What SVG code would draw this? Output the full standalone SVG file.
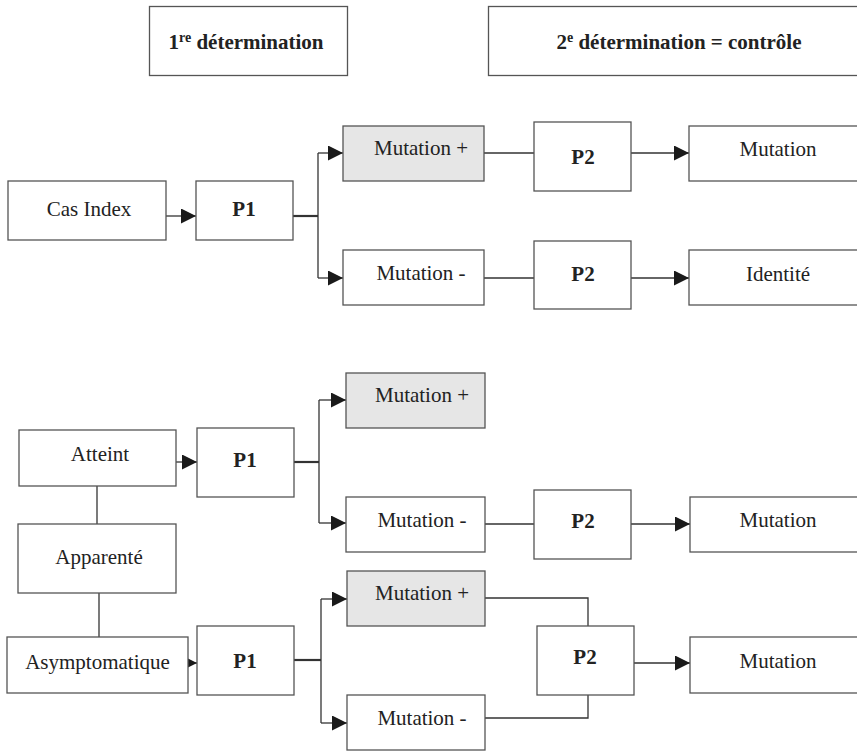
<svg xmlns="http://www.w3.org/2000/svg" width="857" height="752" viewBox="0 0 857 752">
<style>
  .box{fill:#ffffff;stroke:#555555;stroke-width:1.3}
  .gray{fill:#e6e6e6;stroke:#555555;stroke-width:1.3}
  .t{font-family:"Liberation Serif","DejaVu Serif",serif;font-size:21px;fill:#222222;text-anchor:middle}
  .b{font-weight:bold}
  .c{fill:none;stroke:#333333;stroke-width:1.3}
  .thick{stroke-width:2.2}
</style>
<defs>
  <marker id="arr" markerWidth="15" markerHeight="15" refX="15" refY="7.5" orient="auto" markerUnits="userSpaceOnUse">
    <path d="M0,0 L15,7.5 L0,15 z" fill="#1a1a1a"/>
  </marker>
</defs>
<rect width="857" height="752" fill="#ffffff"/>

<g id="connectors">
  <path class="c" d="M166,216 H196" marker-end="url(#arr)"/>
  <path class="c thick" d="M293,216 H318"/>
  <path class="c" d="M318,153 V278"/>
  <path class="c" d="M318,153 H343" marker-end="url(#arr)"/>
  <path class="c" d="M318,278 H343" marker-end="url(#arr)"/>
  <path class="c" d="M484,153 H534"/>
  <path class="c" d="M631,153 H689" marker-end="url(#arr)"/>
  <path class="c" d="M484,278 H534"/>
  <path class="c" d="M631,278 H689" marker-end="url(#arr)"/>

  <path class="c" d="M176,462 H197" marker-end="url(#arr)"/>
  <path class="c thick" d="M294,462 H319"/>
  <path class="c" d="M319,400 V523"/>
  <path class="c" d="M319,400 H346" marker-end="url(#arr)"/>
  <path class="c" d="M319,523 H346" marker-end="url(#arr)"/>
  <path class="c" d="M485,524 H534"/>
  <path class="c" d="M631,524 H690" marker-end="url(#arr)"/>
  <path class="c" d="M97,486 V524"/>
  <path class="c" d="M99,593 V637"/>

  <path class="c" d="M175,663 H197" marker-end="url(#arr)"/>
  <path class="c thick" d="M294,660 H321"/>
  <path class="c" d="M321,599 V723"/>
  <path class="c" d="M321,599 H347" marker-end="url(#arr)"/>
  <path class="c" d="M321,723 H347" marker-end="url(#arr)"/>
  <path class="c" d="M485,598 H588 V626"/>
  <path class="c" d="M485,718 H588 V695"/>
  <path class="c" d="M634,663 H690" marker-end="url(#arr)"/>
</g>

<g id="header1">
  <rect class="box" x="149.5" y="6.5" width="198" height="69"/>
  <text class="t b" x="246" y="49">1<tspan font-size="14" dy="-7">re</tspan><tspan dy="7"> détermination</tspan></text>
</g>
<g id="header2">
  <rect class="box" x="488.5" y="6.5" width="390" height="69"/>
  <text class="t b" x="679" y="49">2<tspan font-size="14" dy="-7">e</tspan><tspan dy="7"> détermination = contrôle</tspan></text>
</g>

<g id="cas-index">
  <rect class="box" x="8" y="181" width="158" height="59"/>
  <text class="t" x="89" y="216">Cas Index</text>
</g>
<g id="p1-a">
  <rect class="box" x="196" y="181" width="97" height="59"/>
  <text class="t b" x="244" y="216">P1</text>
</g>
<g id="mutplus-a">
  <rect class="gray" x="343" y="126" width="141" height="55"/>
  <text class="t" x="421" y="155">Mutation +</text>
</g>
<g id="mutminus-a">
  <rect class="box" x="343" y="250" width="141" height="55"/>
  <text class="t" x="421" y="280">Mutation -</text>
</g>
<g id="p2-a">
  <rect class="box" x="534" y="122" width="97" height="69"/>
  <text class="t b" x="583" y="164">P2</text>
</g>
<g id="p2-b">
  <rect class="box" x="534" y="241" width="97" height="68"/>
  <text class="t b" x="583" y="281">P2</text>
</g>
<g id="mutation-a">
  <rect class="box" x="689" y="126" width="190" height="55"/>
  <text class="t" x="778" y="156">Mutation</text>
</g>
<g id="identite">
  <rect class="box" x="689" y="250" width="190" height="55"/>
  <text class="t" x="778" y="281">Identité</text>
</g>

<g id="atteint">
  <rect class="box" x="19" y="430" width="157" height="56"/>
  <text class="t" x="100" y="461">Atteint</text>
</g>
<g id="p1-b">
  <rect class="box" x="197" y="428" width="97" height="69"/>
  <text class="t b" x="245" y="467">P1</text>
</g>
<g id="mutplus-b">
  <rect class="gray" x="346" y="373" width="139" height="55"/>
  <text class="t" x="422" y="402">Mutation +</text>
</g>
<g id="mutminus-b">
  <rect class="box" x="346" y="497" width="139" height="55"/>
  <text class="t" x="422" y="527">Mutation -</text>
</g>
<g id="p2-c">
  <rect class="box" x="534" y="490" width="97" height="69"/>
  <text class="t b" x="583" y="528">P2</text>
</g>
<g id="mutation-b">
  <rect class="box" x="690" y="497" width="190" height="55"/>
  <text class="t" x="778" y="527">Mutation</text>
</g>
<g id="apparente">
  <rect class="box" x="18" y="524" width="158" height="69"/>
  <text class="t" x="99" y="564">Apparenté</text>
</g>
<g id="asymptomatique">
  <rect class="box" x="7" y="637" width="181" height="56"/>
  <text class="t" x="97.5" y="669">Asymptomatique</text>
</g>
<g id="p1-c">
  <rect class="box" x="197" y="626" width="97" height="69"/>
  <text class="t b" x="245" y="668">P1</text>
</g>
<g id="mutplus-c">
  <rect class="gray" x="347" y="571" width="138" height="55"/>
  <text class="t" x="422" y="600">Mutation +</text>
</g>
<g id="mutminus-c">
  <rect class="box" x="347" y="695" width="138" height="55"/>
  <text class="t" x="422" y="725">Mutation -</text>
</g>
<g id="p2-d">
  <rect class="box" x="537" y="626" width="97" height="69"/>
  <text class="t b" x="585" y="664">P2</text>
</g>
<g id="mutation-c">
  <rect class="box" x="690" y="637" width="190" height="56"/>
  <text class="t" x="778" y="668">Mutation</text>
</g>
</svg>
